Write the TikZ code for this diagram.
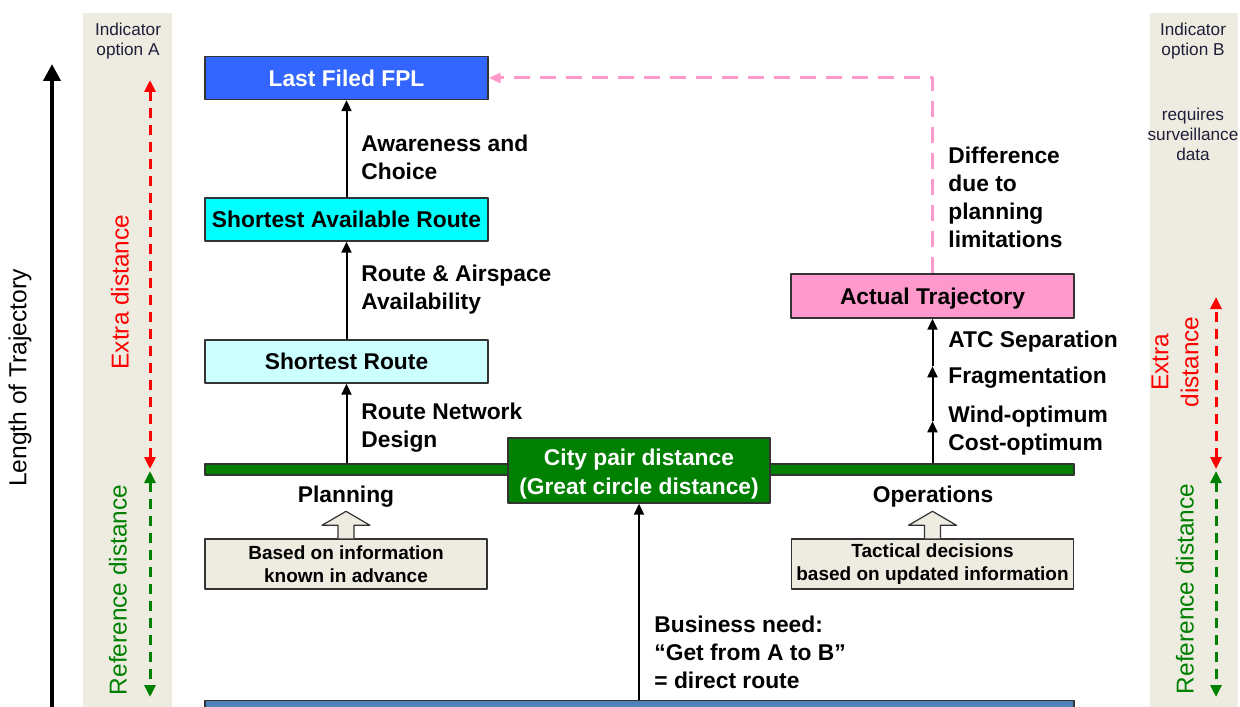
\documentclass[tikz,border=0pt]{standalone}
\usepackage{fontspec}
\setmainfont{Liberation Sans}
\usetikzlibrary{arrows.meta, calc}
\definecolor{strip}{HTML}{EEECE1}
\definecolor{edge}{HTML}{333333}
\definecolor{fplblue}{HTML}{3366FF}
\definecolor{routecyan}{HTML}{00FFFF}
\definecolor{lightcyan}{HTML}{CCFFFF}
\definecolor{pinkbox}{HTML}{FF99CC}
\definecolor{darkgreen}{HTML}{008000}
\definecolor{basebar}{HTML}{4F81BD}
\definecolor{navy}{HTML}{1F1F3A}
\newcommand\boxfont{\fontsize{11.4}{14.5}\selectfont\bfseries}
\newcommand\lblfont{\fontsize{11.4}{14}\selectfont\bfseries}
\newcommand\notefont{\fontsize{9.5}{11.5}\selectfont\bfseries}
\newcommand\sidefont{\fontsize{8.6}{10}\selectfont}
\newcommand\vfont{\fontsize{12.2}{15}\selectfont}
\begin{document}
\begin{tikzpicture}[x=0.5pt,y=-0.5pt,line join=round,
  >={Triangle[length=5.5pt,width=5pt]},
  box/.style={draw=edge,line width=0.7pt,inner sep=0pt,minimum width=141.5pt,minimum height=21.5pt,text height=8.2pt,text depth=0pt,font=\boxfont},
  note/.style={draw=edge,line width=0.7pt,fill=strip,inner sep=0pt,minimum width=141pt,minimum height=25pt,align=center,font=\notefont},
  lbl/.style={anchor=west,inner sep=0pt,text height=8.2pt,text depth=0pt,font=\lblfont},
  lbls/.style={anchor=west,align=left,inner sep=0pt,font=\lblfont},
  side/.style={align=center,inner sep=0pt,font=\sidefont,text=navy},
  vtext/.style={rotate=90,inner sep=0pt,font=\vfont},
  dist/.style={line width=1.5pt,dash pattern=on 5pt off 3.5pt,{Triangle[length=6pt,width=5.5pt]}-{Triangle[length=6pt,width=5.5pt]}},
  link/.style={->,line width=1pt}]
\useasboundingbox (0,0) rectangle (1240,706);
\clip (0,0) rectangle (1240,706);
% indicator strips
\fill[strip] (83,13) rectangle (172,720);
\fill[strip] (1150,13) rectangle (1238,720);
% length axis
\draw[line width=2pt,-{Triangle[length=8.5pt,width=8.5pt]}] (52,720) -- (52,64);
\node[vtext,font=\fontsize{12.3}{15}\selectfont] (len) at (20,378) {Length of Trajectory};
\node[side] (optA) at (128,41) {Indicator\\option A};
\node[side] (optB) at (1193,41) {Indicator\\option B};
\node[side] (surv) at (1193,134) {requires\\surveillance\\data};
% distance arrows
\draw[dist,red] (150,469) -- (150,80);
\draw[dist,darkgreen] (150,471) -- (150,697);
\draw[dist,red] (1216,469) -- (1216,297);
\draw[dist,darkgreen] (1216,471) -- (1216,697);
\node[vtext,text=red] (extraA) at (120,292) {Extra distance};
\node[vtext,text=darkgreen] (refA) at (118,590) {Reference distance};
\node[vtext,text=red,align=center] (extraB) at (1175,362) {Extra\\distance};
\node[vtext,text=darkgreen] (refB) at (1185,589) {Reference distance};
% boxes
\node[box,fill=fplblue,text=white] (fpl) at (346.5,78) {Last Filed FPL};
\node[box,fill=routecyan] (sar) at (346.5,219.5) {Shortest Available Route};
\node[box,fill=lightcyan] (sr) at (346.5,361.5) {Shortest Route};
\node[box,fill=pinkbox,minimum height=22pt] (act) at (932.5,296) {Actual Trajectory};
\node[draw=edge,fill=darkgreen,line width=0.7pt,minimum width=434.5pt,minimum height=5.5pt,inner sep=0pt] (bar) at (639.5,469.5) {};
\node[box,fill=darkgreen,minimum width=131pt,minimum height=32.5pt] (city) at (639,470.5) {};
\node[align=center,inner sep=0pt,text=white,font=\boxfont] (citytext) at ($(city.center)+(0,4)$) {City pair distance\\(Great circle distance)};
\node[draw=edge,fill=basebar,line width=0.7pt,minimum width=434.5pt,minimum height=10pt,inner sep=0pt,anchor=north] (base) at (639.5,700) {};
\node[lbl,anchor=center] (plan) at (346,494) {Planning};
\node[lbl,anchor=center] (ops) at (933,494) {Operations};
\node[note] (adv) at (346,564) {Based on information\\known in advance};
\node[note] (tac) at (932.5,564) {Tactical decisions\\based on updated information};
\foreach \n in {adv,tac}
{\draw[draw=edge,fill=strip,line width=0.6pt] (\n.north) ++(-8,0) -- ++(0,-13) -- ++(-16,0) -- ++(24,-14) -- ++(24,14) -- ++(-16,0) -- ++(0,13);}
% connectors
\draw[link] (bar.north -| sr.south) -- (sr.south);
\draw[link] (sr.north) -- (sar.south);
\draw[link] (sar.north) -- (fpl.south);
\draw[link] (base.north -| city.south) -- (city.south);
\path (bar.north -| act.south) coordinate (o0) ++(0,-42) coordinate (o1) ++(0,-55) coordinate (o2);
\draw[link] (o0) -- (o1);
\draw[link] (o1) -- (o2);
\draw[link] (o2) -- (act.south);
\draw[pinkbox,line width=1.5pt,dash pattern=on 8pt off 5pt,-{Triangle[length=6pt,width=5pt]}] (act.north) |- (fpl.east);
% labels
\node[lbls] (aware) at (361,157) {Awareness and\\Choice};
\node[lbls] (avail) at (361,290) {Route \& Airspace\\Availability};
\node[lbls] (design) at (361,427.5) {Route Network\\Design};
\node[lbl] (atc) at (948,339) {ATC Separation};
\node[lbl] (frag) at (948,375) {Fragmentation};
\node[lbls] (wind) at (948,431) {Wind-optimum\\Cost-optimum};
\node[lbls] (diff) at (948,197) {Difference\\due to\\planning\\limitations};
\node[lbls] (need) at (654,652) {Business need:\\“Get from A to B”\\= direct route};
\end{tikzpicture}
\end{document}
